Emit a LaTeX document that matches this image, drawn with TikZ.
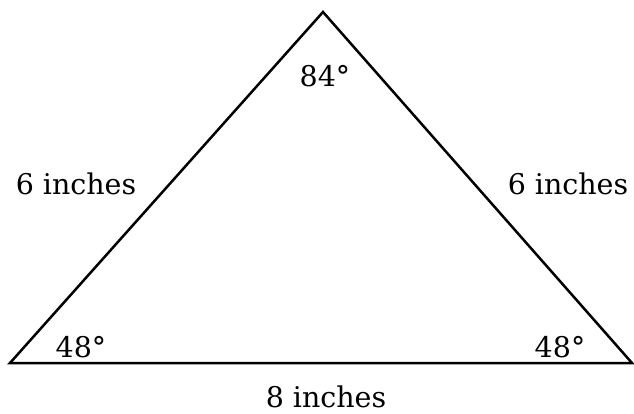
\documentclass[tikz,border=0pt]{standalone}
\usepackage{fontspec}
\setmainfont{DejaVu Serif}
\begin{document}
\begin{tikzpicture}[x=1pt,y=-1pt,
  lbl/.style={font=\fontsize{28.5}{34}\selectfont, inner sep=0pt, anchor=base}]
\useasboundingbox (0,0) rectangle (634,414);
\coordinate (A) at (323,12);
\coordinate (B) at (10,363);
\coordinate (C) at (632,363);
\draw[line width=2.5pt, line join=miter] (A) -- (B) -- (C) -- cycle;
\node[lbl] (top) at (325,87) {84°};
\node[lbl] (ls) at (76,195) {6 inches};
\node[lbl] (rs) at (568,195) {6 inches};
\node[lbl] (la) at (81,357) {48°};
\node[lbl] (ra) at (560,357) {48°};
\node[lbl] (bs) at (326,407) {8 inches};
\end{tikzpicture}
\end{document}
